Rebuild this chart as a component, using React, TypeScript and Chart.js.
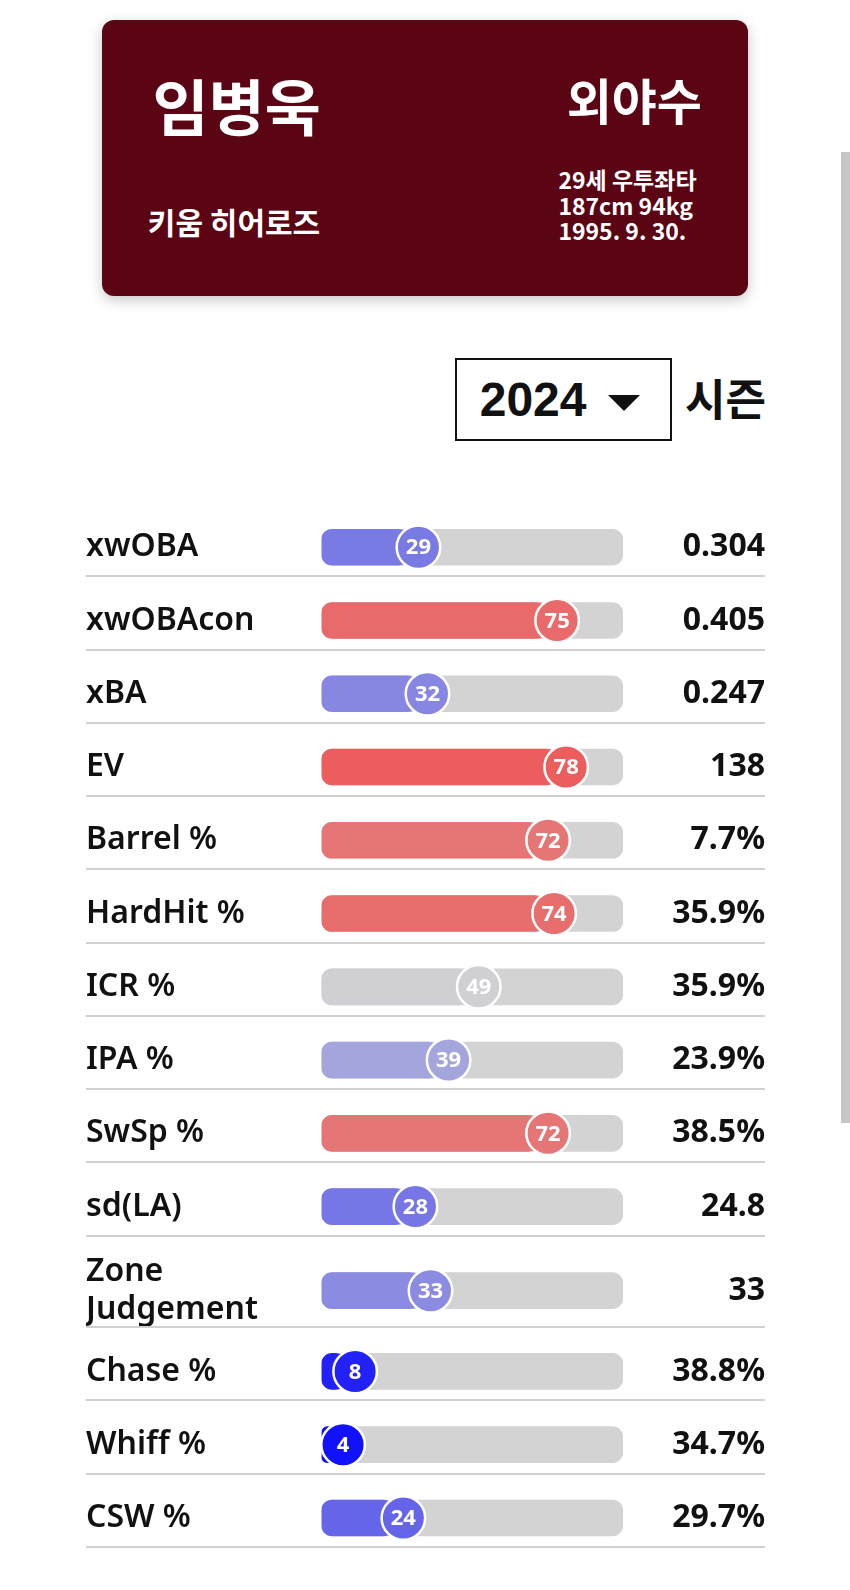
import React, { useEffect, useRef } from 'react';
import { Chart, registerables } from 'chart.js';

Chart.register(...registerables);

// ---- data ----
const METRICS: (string | string[])[] = [
  'xwOBA', 'xwOBAcon', 'xBA', 'EV', 'Barrel %', 'HardHit %', 'ICR %', 'IPA %',
  'SwSp %', 'sd(LA)', ['Zone', 'Judgement'], 'Chase %', 'Whiff %', 'CSW %',
];
const PERCENTILES = [29, 75, 32, 78, 72, 74, 49, 39, 72, 28, 33, 8, 4, 24];
const STAT_VALUES = [
  '0.304', '0.405', '0.247', '138', '7.7%', '35.9%', '35.9%', '23.9%',
  '38.5%', '24.8', '33', '38.8%', '34.7%', '29.7%',
];
const PERCENTILE_MAX = 100;

const PLAYER_NAME = '임병욱';
const POSITION = '외야수';
const TEAM = '키움 히어로즈';
const BIO_LINES = ['29세 우투좌타', '187cm 94kg', '1995. 9. 30.'];
const SEASON = '2024';
const SEASON_LABEL = '시즌';

// ---- styles / layout rules ----
const CARD_BG = '#5b0514';
const TRACK_COLOR = '#d3d3d3';
const SEP_COLOR = '#d0d0d0';
const CIRCLE_SHIFT = 9.5;
const EXTRA_LINE_SPAN = 0.25; // extra row height (in rows) per additional label line
const BAR_POS_IN_ROW = 0.59; // bar sits a bit below the middle of its row
const CJK = '"Noto Sans CJK KR", "Noto Sans", sans-serif';

const lineCount = (l: string | string[]) => (Array.isArray(l) ? l.length : 1);
const ROW_SPANS = METRICS.map((l) => 1 + EXTRA_LINE_SPAN * (lineCount(l) - 1));
const ROW_STARTS: number[] = [];
ROW_SPANS.reduce((acc, s) => {
  ROW_STARTS.push(acc);
  return acc + s;
}, 0);
const ROW_TOTAL = ROW_SPANS.reduce((a, b) => a + b, 0);
const ROW_CENTERS = ROW_STARTS.map((s, i) => s + BAR_POS_IN_ROW * ROW_SPANS[i]);

function pctColor(v: number): string {
  const g = [211, 211, 211];
  const end = v < 50 ? [0, 0, 255] : [255, 0, 0];
  const t = Math.abs(v - 50) / 50;
  const c = g.map((gv, k) => Math.round(gv + (end[k] - gv) * t));
  return `rgb(${c[0]},${c[1]},${c[2]})`;
}

const rowDecor = {
  id: 'rowDecor',
  beforeDatasetsDraw(chart: any) {
    const ctx = chart.ctx;
    const y = chart.scales.y;
    ctx.save();
    ctx.strokeStyle = SEP_COLOR;
    ctx.lineWidth = 2;
    ROW_STARTS.forEach((s, i) => {
      const py = Math.round(y.getPixelForValue(s + ROW_SPANS[i]) - 1);
      ctx.beginPath();
      ctx.moveTo(0, py);
      ctx.lineTo(chart.width, py);
      ctx.stroke();
    });
    ctx.restore();
  },
  afterDatasetsDraw(chart: any) {
    const ctx = chart.ctx;
    const x = chart.scales.x;
    const y = chart.scales.y;
    ctx.save();
    PERCENTILES.forEach((v, i) => {
      const cx = x.getPixelForValue(v) + CIRCLE_SHIFT;
      const cy = y.getPixelForValue(ROW_CENTERS[i]);
      ctx.beginPath();
      ctx.arc(cx, cy, 21.75, 0, Math.PI * 2);
      ctx.fillStyle = pctColor(v);
      ctx.fill();
      ctx.lineWidth = 2.5;
      ctx.strokeStyle = '#ffffff';
      ctx.stroke();
      ctx.fillStyle = '#ffffff';
      ctx.font = 'bold 22px "Noto Sans", sans-serif';
      ctx.textAlign = 'center';
      ctx.textBaseline = 'middle';
      ctx.fillText(String(v), cx, cy + 1);
    });
    ctx.restore();
  },
};

const rowTicks = (s: any) => {
  s.ticks = ROW_CENTERS.map((v) => ({ value: v }));
};
const fixWidth = (w: number) => (s: any) => {
  s.width = w;
  s.paddingTop = 0;
  s.paddingBottom = 0;
};

function StatChart() {
  const ref = useRef<HTMLCanvasElement>(null);
  useEffect(() => {
    if (!ref.current) return;
    const chart = new Chart(ref.current, {
      type: 'bar',
      data: {
        datasets: [
          {
            label: 'percentile',
            data: PERCENTILES.map((v, i) => ({ x: v, y: ROW_CENTERS[i] })),
            backgroundColor: PERCENTILES.map(pctColor),
            barThickness: 36,
            borderRadius: 11,
            borderSkipped: false,
            grouped: false,
            order: 1,
            yAxisID: 'y',
            xAxisID: 'x',
          } as any,
          {
            label: 'track',
            data: ROW_CENTERS.map((c) => ({ x: PERCENTILE_MAX, y: c })),
            backgroundColor: TRACK_COLOR,
            barThickness: 36,
            borderRadius: 11,
            borderSkipped: false,
            grouped: false,
            order: 2,
            yAxisID: 'y',
            xAxisID: 'x',
          } as any,
        ],
      },
      options: {
        indexAxis: 'y',
        animation: false,
        responsive: false,
        maintainAspectRatio: false,
        events: [],
        layout: { padding: { top: 0, bottom: 6, left: 0, right: 0 } },
        plugins: { legend: { display: false }, tooltip: { enabled: false } },
        scales: {
          x: { type: 'linear', min: 0, max: PERCENTILE_MAX, display: false, offset: false },
          y: {
            type: 'linear',
            position: 'left',
            reverse: true,
            offset: false,
            min: 0,
            max: ROW_TOTAL,
            grid: { display: false, offset: false },
            border: { display: false },
            afterBuildTicks: rowTicks,
            ticks: {
              autoSkip: false,
              crossAlign: 'far',
              padding: 0,
              color: '#111111',
              font: { family: '"Noto Sans", sans-serif', size: 32, weight: '600', lineHeight: 1.2 },
              callback: (_v: any, i: number) => METRICS[i],
            },
            afterFit: fixWidth(235.5),
          },
          y2: {
            type: 'linear',
            position: 'right',
            reverse: true,
            offset: false,
            min: 0,
            max: ROW_TOTAL,
            grid: { display: false, offset: false },
            border: { display: false },
            afterBuildTicks: rowTicks,
            ticks: {
              autoSkip: false,
              crossAlign: 'far',
              padding: 0,
              color: '#111111',
              font: { family: '"Noto Sans", sans-serif', size: 32, weight: 'bold' },
              callback: (_v: any, i: number) => STAT_VALUES[i],
            },
            afterFit: fixWidth(142),
          },
        } as any,
      },
      plugins: [rowDecor],
    });
    return () => chart.destroy();
  }, []);
  return (
    <canvas
      ref={ref}
      width={679}
      height={1050}
      style={{ position: 'absolute', left: 78, top: 496.4, width: 679, height: 1050 }}
    />
  );
}

export default function App() {
  const white = '#ffffff';
  return (
    <div style={{ position: 'relative', width: 834, height: 1570, fontFamily: CJK }}>
      {/* player card */}
      <div
        style={{
          position: 'absolute',
          left: 94.4,
          top: 12,
          width: 646,
          height: 276,
          background: CARD_BG,
          borderRadius: 12,
          boxShadow: '0 4px 14px rgba(0,0,0,0.22)',
          color: white,
        }}
      >
        <div style={{ position: 'absolute', left: 50, top: 54, fontSize: 61, lineHeight: '61px', fontWeight: 700, whiteSpace: 'nowrap' }}>
          {PLAYER_NAME}
        </div>
        <div style={{ position: 'absolute', right: 46.5, top: 54, fontSize: 49, lineHeight: '49px', fontWeight: 700, whiteSpace: 'nowrap' }}>
          {POSITION}
        </div>
        <div style={{ position: 'absolute', left: 45.4, top: 186, fontSize: 30, lineHeight: '30px', fontWeight: 700, whiteSpace: 'nowrap' }}>
          {TEAM}
        </div>
        <div style={{ position: 'absolute', left: 456, top: 147, fontSize: 23, lineHeight: '25.5px', fontWeight: 600, whiteSpace: 'nowrap' }}>
          {BIO_LINES.map((l) => (
            <div key={l}>{l}</div>
          ))}
        </div>
      </div>

      {/* season selector */}
      <div
        style={{
          position: 'absolute',
          left: 447.4,
          top: 350,
          width: 217,
          height: 83,
          boxSizing: 'border-box',
          border: '2px solid #111',
          background: '#fff',
        }}
      />
      <div
        style={{
          position: 'absolute',
          left: 471.7,
          top: 367.6,
          fontFamily: '"Liberation Sans", Arial, sans-serif',
          fontWeight: 700,
          fontSize: 48,
          lineHeight: '48px',
          color: '#111',
        }}
      >
        {SEASON}
      </div>
      <div
        style={{
          position: 'absolute',
          left: 600.3,
          top: 387,
          width: 0,
          height: 0,
          borderLeft: '16px solid transparent',
          borderRight: '16px solid transparent',
          borderTop: '16px solid #111',
        }}
      />
      <div
        style={{
          position: 'absolute',
          left: 677,
          top: 366.6,
          fontSize: 44,
          lineHeight: '44px',
          fontWeight: 700,
          color: '#111',
          whiteSpace: 'nowrap',
        }}
      >
        {SEASON_LABEL}
      </div>

      {/* scrollbar-like strip */}
      <div style={{ position: 'fixed', right: 0, top: 152, width: 9, height: 971, background: '#c6c6c6' }} />

      <StatChart />
    </div>
  );
}
